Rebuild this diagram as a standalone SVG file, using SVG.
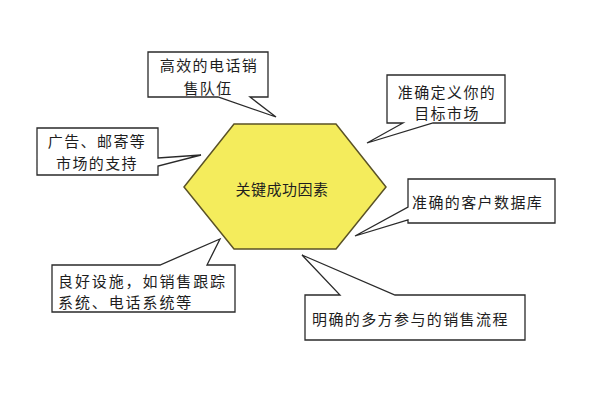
<svg xmlns="http://www.w3.org/2000/svg" width="600" height="400" viewBox="0 0 600 400">
<style>
.co{fill:#ffffff;stroke:#2a2a2a;stroke-width:1.3;stroke-linejoin:miter}
.t{font-family:"Noto Sans CJK SC","Noto Sans",sans-serif;font-size:15px;fill:#1e1e1e;letter-spacing:1.4px}
.c{text-anchor:middle}
</style>
<rect width="600" height="400" fill="#ffffff"/>
<g id="hub">
<polygon points="234,124 336,124 386,187 336,249 234,249 184,187" fill="#F4EC5C" stroke="#5a5226" stroke-width="1.5"/>
<text class="t c" x="282" y="195" style="letter-spacing:0.5px">关键成功因素</text>
</g>
<g id="connectors">
<!-- connectors are the callout pointers, drawn as part of each callout outline -->
</g>
<g id="n1">
<path class="co" d="M148,52 H268 V97 H250 L276,117 L218,97 H148 Z"/>
<text class="t c" x="209" y="71">高效的电话销</text>
<text class="t c" x="208" y="94">售队伍</text>
</g>
<g id="n2">
<path class="co" d="M387,75 H505 V123 H433 L367,143 L403,123 H387 Z"/>
<text class="t c" x="447" y="98">准确定义你的</text>
<text class="t c" x="447" y="119">目标市场</text>
</g>
<g id="n3">
<path class="co" d="M37,128 H158 V158 L201,155 L158,166 V175 H37 Z"/>
<text class="t c" x="97" y="147">广告、邮寄等</text>
<text class="t c" x="97" y="169">市场的支持</text>
</g>
<g id="n4">
<path class="co" d="M408,179 H555 V223 H408 V220 L355,236 L408,207 Z"/>
<text class="t" x="412" y="208">准确的客户数据库</text>
</g>
<g id="n5">
<path class="co" d="M52,265 H160 L220,239 L207,265 H235 V312 H52 Z"/>
<text class="t" x="58" y="287" style="letter-spacing:1.9px">良好设施，如销售跟踪</text>
<text class="t" x="58" y="308" style="letter-spacing:1.9px">系统、电话系统等</text>
</g>
<g id="n6">
<path class="co" d="M305,295 H340 L302,255 L395,295 H525 V340 H305 Z"/>
<text class="t" x="312" y="325">明确的多方参与的销售流程</text>
</g>
</svg>
